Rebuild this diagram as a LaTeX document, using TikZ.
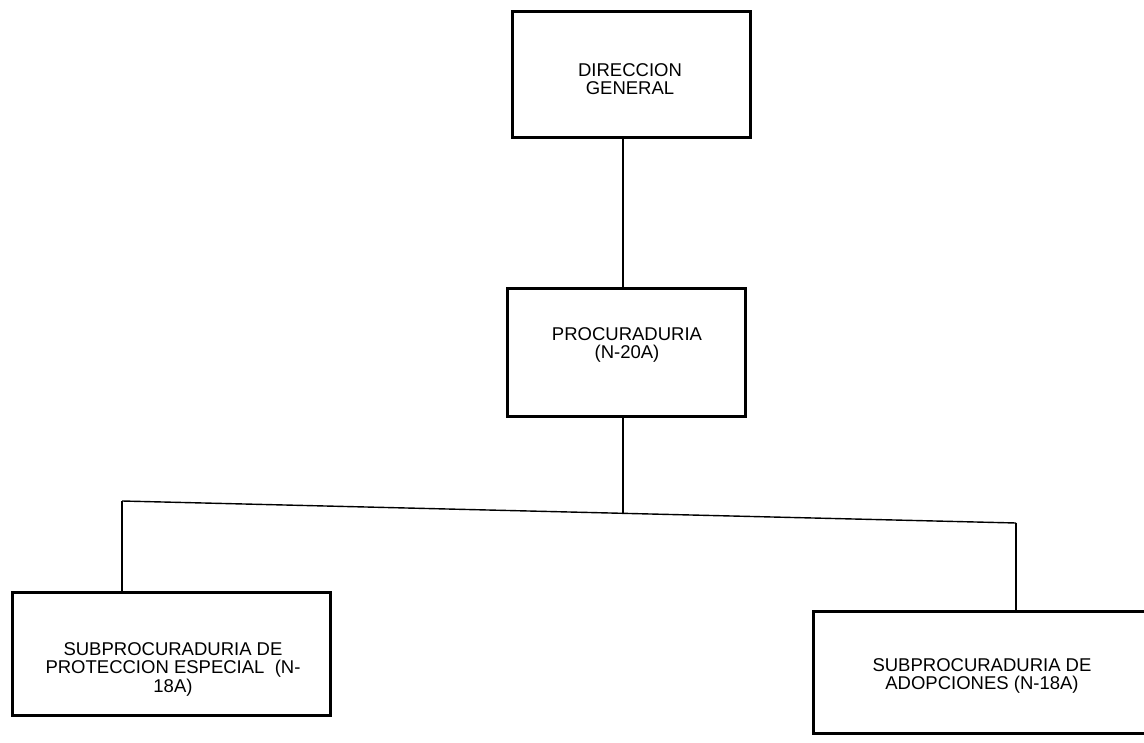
\documentclass[tikz,border=0pt]{standalone}
\usepackage{fontspec}
\setmainfont{Liberation Sans}
\begin{document}
\begin{tikzpicture}[x=1pt,y=-1pt,
  box/.style={draw=black,line width=3pt,rectangle,inner sep=0pt},
  txt/.style={align=center,font=\fontsize{18.5}{18.5}\selectfont,inner sep=0pt},
  conn/.style={draw=black,line width=1.4pt}]
\useasboundingbox[fill=white] (0,0) rectangle (1144,743);
% boxes
\node[box,minimum width=238pt,minimum height=126pt] (dg) at (631,75) {};
\node[txt] (dgt) at (630,79) {DIRECCION\\GENERAL};
\node[box,minimum width=238pt,minimum height=128pt] (proc) at (626,353) {};
\node[txt] (proct) at (627,345) {PROCURADURIA\\(N-20A)};
\node[box,minimum width=318pt,minimum height=123pt] (l) at (171,654) {};
\node[txt] (lt) at (173,669) {SUBPROCURADURIA DE\\PROTECCION ESPECIAL\ \ (N-\\18A)};
\node[box,minimum width=345pt,minimum height=122pt] (r) at (986,672) {};
\node[txt] (rt) at (982,676) {SUBPROCURADURIA DE\\ADOPCIONES (N-18A)};
% bus coordinates
\coordinate (bl) at (122,501);
\coordinate (br) at (1016,523);
\coordinate (bm) at (623,513);
% connectors
\draw[conn] (dg.south -| bm) -- (proc.north -| bm);
\draw[conn] (proc.south -| bm) -- (bm);
\draw[conn] (bl) -- (br);
\draw[conn] (bl) -- (bl |- l.north);
\draw[conn] (br) -- (br |- r.north);
\end{tikzpicture}
\end{document}
